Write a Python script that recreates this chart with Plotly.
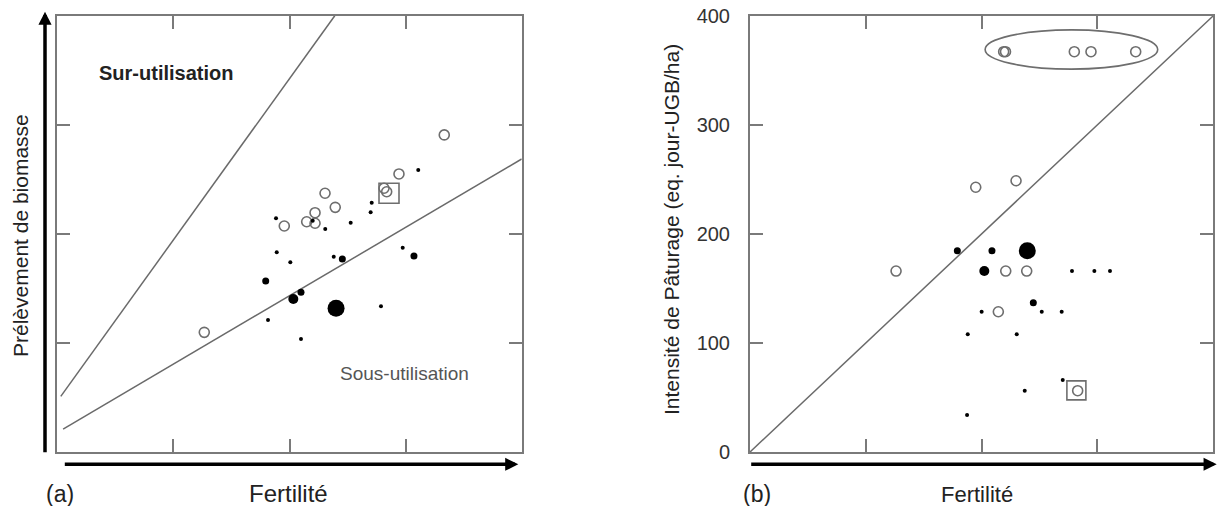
import plotly.graph_objects as go

# ---- panel (a): Prélèvement de biomasse vs Fertilité (unitless 0-4 scale) ----
a_open_x = [3.333, 2.943, 2.814, 2.837, 2.306, 2.394, 2.220, 2.148, 2.220, 1.955, 1.266]
a_open_y = [2.907, 2.549, 2.418, 2.386, 2.372, 2.243, 2.194, 2.111, 2.097, 2.072, 1.097]
a_small_x = [3.109, 2.708, 2.699, 1.884, 2.527, 2.308, 2.200, 1.890, 2.007, 2.381, 2.975, 1.815, 2.099, 2.788]
a_small_y = [2.585, 2.286, 2.198, 2.143, 2.102, 2.044, 2.121, 1.831, 1.739, 1.791, 1.873, 1.210, 1.036, 1.336]
a_med_x = [2.455, 3.072, 1.795, 2.099]
a_med_y = [1.769, 1.797, 1.568, 1.464]
a_large_x = [2.033]
a_large_y = [1.403]
a_big_x = [2.401]
a_big_y = [1.317]
a_boxed_x = [2.857]
a_boxed_y = [2.372]
# limit lines
a_sur_x = [0.03, 2.39]
a_sur_y = [0.51, 4.0]
a_sous_x = [0.05, 4.0]
a_sous_y = [0.21, 2.686]

# ---- panel (b): Intensité de Pâturage vs Fertilité ----
b_open_x = [194.9, 229.7, 126.1, 220.8, 238.9, 214.4, 282.9]
b_open_y = [242.7, 248.7, 165.9, 165.9, 165.9, 128.6, 56.2]
b_top_x = [219.0, 220.6, 280.0, 294.4, 333.0]
b_top_y = [367.0, 367.0, 367.0, 367.0, 367.0]
b_small_x = [278.0, 297.3, 310.8, 200.0, 251.9, 269.1, 188.0, 230.3, 237.2, 270.0, 187.4]
b_small_y = [165.9, 165.9, 165.9, 128.6, 128.6, 128.6, 107.9, 107.9, 56.2, 66.0, 33.9]
b_med_x = [208.9, 179.0, 244.6]
b_med_y = [184.6, 184.6, 136.9]
b_large_x = [202.3]
b_large_y = [165.9]
b_big_x = [239.4]
b_big_y = [184.6]
b_boxed_x = [281.8]
b_boxed_y = [56.5]
b_diag = [0, 400]
b_yticks = [0, 100, 200, 300, 400]

FONT = "Liberation Sans, Arial, sans-serif"
FRAME = "#7a7a7a"
LINE = "#6a6a6a"
RING = "#6e6e6e"

fig = go.Figure()


def add_points(xs, ys, xa, ya, size, symbol="circle", color="black", lw=0):
    fig.add_trace(go.Scatter(
        x=xs, y=ys, mode="markers", xaxis=xa, yaxis=ya, hoverinfo="skip",
        marker=dict(size=size, symbol=symbol, color=color,
                    line=dict(width=lw, color=color))))


# panel (a)
fig.add_trace(go.Scatter(x=a_sur_x, y=a_sur_y, mode="lines", xaxis="x", yaxis="y",
                         line=dict(color=LINE, width=1.5), hoverinfo="skip"))
fig.add_trace(go.Scatter(x=a_sous_x, y=a_sous_y, mode="lines", xaxis="x", yaxis="y",
                         line=dict(color=LINE, width=1.5), hoverinfo="skip"))
add_points(a_open_x, a_open_y, "x", "y", 10, "circle-open", RING, 1.6)
add_points(a_small_x, a_small_y, "x", "y", 4)
add_points(a_med_x, a_med_y, "x", "y", 7)
add_points(a_large_x, a_large_y, "x", "y", 10)
add_points(a_big_x, a_big_y, "x", "y", 17)
add_points(a_boxed_x, a_boxed_y, "x", "y", 20, "square-open", RING, 1.6)

# panel (b)
fig.add_trace(go.Scatter(x=b_diag, y=b_diag, mode="lines", xaxis="x2", yaxis="y2",
                         line=dict(color=LINE, width=1.5), hoverinfo="skip"))
add_points(b_open_x, b_open_y, "x2", "y2", 10, "circle-open", RING, 1.6)
add_points(b_top_x, b_top_y, "x2", "y2", 10, "circle-open", RING, 1.6)
add_points(b_small_x, b_small_y, "x2", "y2", 4)
add_points(b_med_x, b_med_y, "x2", "y2", 7)
add_points(b_large_x, b_large_y, "x2", "y2", 10)
add_points(b_big_x, b_big_y, "x2", "y2", 17)
add_points(b_boxed_x, b_boxed_y, "x2", "y2", 19, "square-open", RING, 1.6)

# ellipse around the top group
fig.add_shape(type="circle", xref="x2", yref="y2",
              x0=min(b_top_x) - 16, x1=max(b_top_x) + 19,
              y0=min(b_top_y) - 16, y1=max(b_top_y) + 20,
              line=dict(color=RING, width=1.6))

W, H = 1218, 506
ydom = [1 - 452 / H, 1 - 15.7 / H]
axis_common = dict(showline=True, mirror="ticks", linecolor=FRAME, linewidth=2,
                   ticks="inside", ticklen=13, tickwidth=1.5, tickcolor=FRAME,
                   showgrid=False, zeroline=False, fixedrange=True, automargin=False)

fig.update_layout(
    width=W, height=H, margin=dict(l=0, r=0, t=0, b=0, pad=0),
    paper_bgcolor="white", plot_bgcolor="white", showlegend=False,
    font=dict(family=FONT, color="#222"),
    xaxis=dict(domain=[57.3 / W, 521.7 / W], range=[0, 4], tickvals=[1, 2, 3],
               showticklabels=False, anchor="y", **axis_common),
    yaxis=dict(domain=ydom, range=[0, 4], tickvals=[1, 2, 3],
               showticklabels=False, anchor="x", **axis_common),
    xaxis2=dict(domain=[750 / W, 1213.3 / W], range=[0, 400], tickvals=[100, 200, 300],
                showticklabels=False, anchor="y2", **axis_common),
    yaxis2=dict(domain=ydom, range=[0, 400], tickvals=b_yticks,
                ticktext=[str(v) for v in b_yticks], ticklabelstandoff=14,
                tickfont=dict(size=20, color="#333"), anchor="x2", **axis_common),
)

# axis arrows
arrow = dict(text="", showarrow=True, arrowhead=2, arrowsize=0.75, arrowwidth=3.5,
             arrowcolor="black", xref="paper", yref="paper", axref="pixel", ayref="pixel")
fig.add_annotation(x=45 / W, y=1 - 11.7 / H, ax=0, ay=442, **arrow)
fig.add_annotation(x=518.3 / W, y=1 - 464.3 / H, ax=-455, ay=0, **arrow)
fig.add_annotation(x=1216.7 / W, y=1 - 464.3 / H, ax=-467, ay=0, **arrow)

# labels
fig.add_annotation(x=0.932, y=3.475, xref="x", yref="y", text="<b>Sur-utilisation</b>",
                   showarrow=False, font=dict(size=20, color="#222"))
fig.add_annotation(x=2.99, y=0.724, xref="x", yref="y", text="Sous-utilisation",
                   showarrow=False, font=dict(size=19, color="#555"))


def txt(px, py, s, size, angle=0):
    fig.add_annotation(x=px / W, y=1 - py / H, xref="paper", yref="paper", text=s,
                       xanchor="center", yanchor="middle",
                       showarrow=False, textangle=angle, font=dict(size=size, color="#222"))


txt(20, 236, "Prélèvement de biomasse", 21, -90)
txt(671, 230, "Intensité de Pâturage (eq. jour-UGB/ha)", 21, -90)
txt(288.5, 493, "Fertilité", 24)
txt(977, 494, "Fertilité", 22)
txt(60, 494, "(a)", 23)
txt(757, 494, "(b)", 23)

fig.write_html("out.html", config={"displayModeBar": False},
               post_script="document.body.style.margin='0';")
